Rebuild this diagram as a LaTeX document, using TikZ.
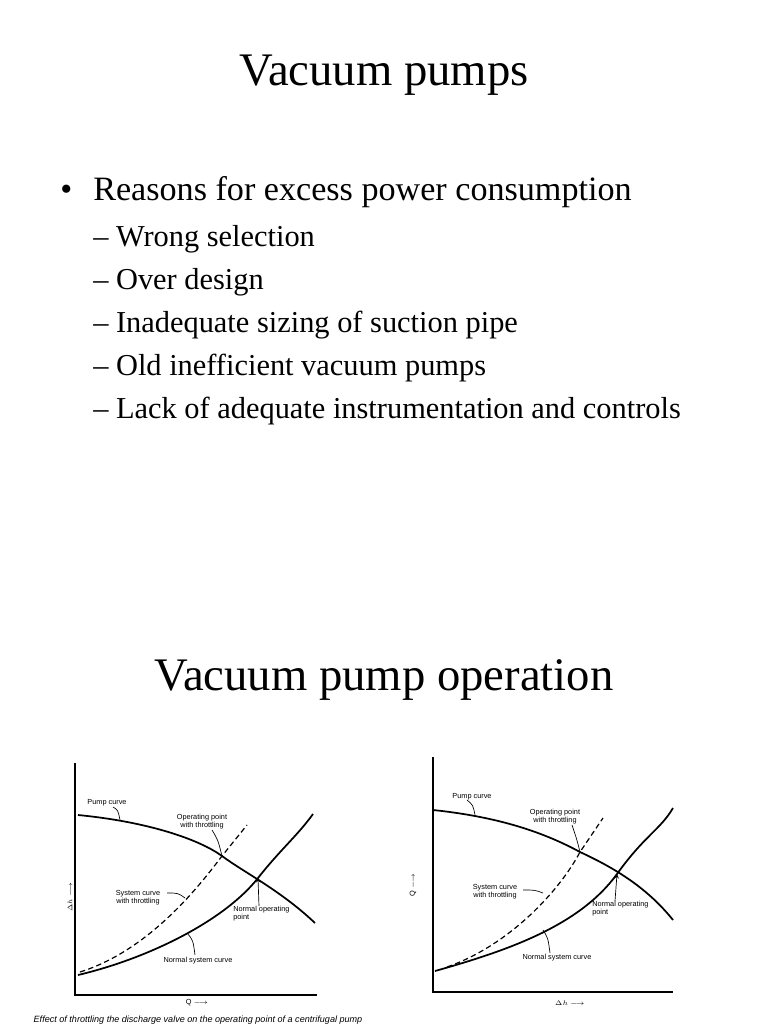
\documentclass[tikz,border=0pt]{standalone}
\usepackage{fontspec}
\setmainfont{Liberation Serif}
\newfontfamily\lab{Liberation Sans}
\begin{document}
\begin{tikzpicture}[x=0.75pt,y=-0.75pt,
  curve/.style={line width=1.3pt},
  dcurve/.style={line width=0.9pt,dash pattern=on 4pt off 2.5pt},
  lbl/.style={font=\lab\fontsize{5.5}{6}\selectfont,align=left,inner sep=0pt},
  ldr/.style={line width=0.5pt},
  axis/.style={line width=1pt},
  t1/.style={font=\fontsize{35}{40}\selectfont,inner sep=0pt},
  b1/.style={font=\fontsize{25.6}{28}\selectfont,inner sep=0pt,anchor=base west},
  b2/.style={font=\fontsize{22.8}{26}\selectfont,inner sep=0pt,anchor=base west}]
\useasboundingbox (0,0) rectangle (768,1024);
\fill[white] (0,0) rectangle (768,1024);
\node[t1] (title1) at (384,75) {Vacuum pumps};
\node[b1] (bul) at (60,200) {\textbullet};
\node[b1] (b0) at (93,200) {Reasons for excess power consumption};
\node[b2] (s1) at (93,246) {– Wrong selection};
\node[b2] (s2) at (93,289) {– Over design};
\node[b2] (s3) at (93,332) {– Inadequate sizing of suction pipe};
\node[b2] (s4) at (93,375) {– Old inefficient vacuum pumps};
\node[b2] (s5) at (93,418) {– Lack of adequate instrumentation and controls};
\node[t1] (title2) at (384,680) {Vacuum pump operation};
% left chart
\coordinate (lo) at (75,995);
\draw[axis] (75,763) -- (lo) -- (317,995);
\coordinate (lop) at (222,856);
\coordinate (lno) at (258,878);
\draw[curve] (78,815) .. controls (150,822) and (200,840) .. (lop) .. controls (245,873) and (280,890) .. (315,923);
\draw[curve] (78,975) .. controls (150,958) and (225,920) .. (lno) .. controls (280,850) and (298,835) .. (313,814);
\draw[dcurve] (80,972) .. controls (150,950) and (200,885) .. (lop) -- (247,825);
\node[lbl] (lpc) at (107,803) {Pump curve};
\draw[ldr] (113,807) .. controls (118,810) .. (120,820);
\node[lbl,align=center] (lopl) at (202,822) {Operating point\\with throttling};
\draw[ldr] (212,830) .. controls (218,840) .. (lop);
\node[lbl,align=center] (lsct) at (138,898) {System curve\\with throttling};
\draw[ldr] (167,893) .. controls (178,893) .. (185,898);
\node[lbl,anchor=north west] (lnop) at (233,906) {Normal operating\\point};
\draw[ldr,-stealth] (259,906) -- (lno);
\node[lbl] (lnsc) at (198,961) {Normal system curve};
\draw[ldr] (195,955) .. controls (193,940) .. (187,933);
\node[lbl] (lq) at (197,1003) {Q $\longrightarrow$};
\node[lbl,rotate=90] (ldh) at (70,897) {$\Delta h$ $\longrightarrow$};
\node[font=\lab\itshape\fontsize{6.8}{7}\selectfont,inner sep=0pt] (cap) at (198,1020) {Effect of throttling the discharge valve on the operating point of a centrifugal pump};
% right chart
\coordinate (ro) at (433,992);
\draw[axis] (433,757) -- (ro) -- (673,992);
\coordinate (rop) at (580,852);
\coordinate (rno) at (617,874);
\draw[curve] (433,810) .. controls (500,817) and (545,833) .. (rop) .. controls (610,866) and (645,885) .. (673,920);
\draw[curve] (435,971) .. controls (510,950) and (580,925) .. (rno) .. controls (645,835) and (660,830) .. (673,808);
\draw[dcurve] (447,967) .. controls (510,945) and (560,890) .. (rop) -- (603,818);
\node[lbl] (rpc) at (472,797) {Pump curve};
\draw[ldr] (467,800) .. controls (473,805) .. (475,815);
\node[lbl,align=center] (ropl) at (555,817) {Operating point\\with throttling};
\draw[ldr] (572,825) .. controls (577,840) .. (rop);
\node[lbl,align=center] (rsct) at (495,892) {System curve\\with throttling};
\draw[ldr] (523,890) .. controls (535,890) .. (543,893);
\node[lbl,anchor=north west] (rnop) at (592,901) {Normal operating\\point};
\draw[ldr,-stealth] (615,901) -- (rno);
\node[lbl] (rnsc) at (557,958) {Normal system curve};
\draw[ldr] (550,953) .. controls (548,938) .. (543,930);
\node[lbl] (rq) at (570,1003) {$\Delta h$ $\longrightarrow$};
\node[lbl,rotate=90] (rdh) at (413,885) {Q $\longrightarrow$};
\end{tikzpicture}
\end{document}
